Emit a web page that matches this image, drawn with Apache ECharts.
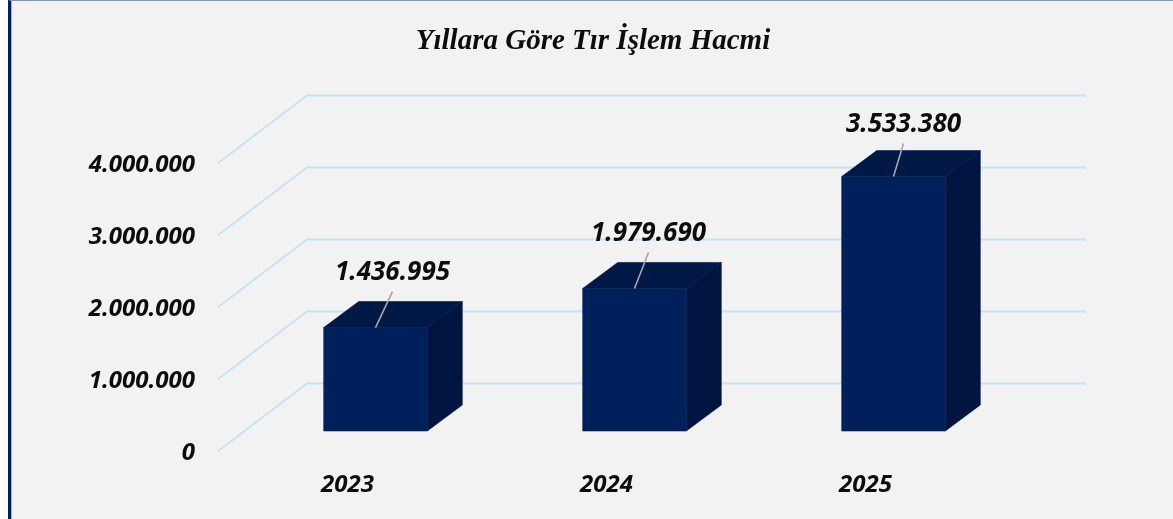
<!DOCTYPE html>
<html><head><meta charset="utf-8">
<style>
html,body{margin:0;padding:0;background:#fff;overflow:hidden}
#frame{position:absolute;left:8px;top:0;width:1165px;height:519px;box-sizing:border-box;border-left:3px solid #002060;border-top:1px solid #7f95bd;background:#f2f2f2;box-shadow:inset 1px 0 0 #9fb1d0}
#c{position:absolute;left:0;top:0;width:1173px;height:519px}
</style></head><body>
<div id="frame"></div><div id="c"></div>
<script src="https://cdn.jsdelivr.net/npm/echarts@6/dist/echarts.min.js"></script>
<script>
const titleText = 'Yıllara Göre Tır İşlem Hacmi';
const years = ['2023', '2024', '2025'];
const volumes = [1436995, 1979690, 3533380];
const volumeLabels = ['1.436.995', '1.979.690', '3.533.380'];
const gridValues = [0, 1000000, 2000000, 3000000, 4000000];
const leaderTips = [[17, -36], [14, -36], [10, -33]];

const FONT = '"Open Sans"';
const FRONT = '#00205c', SIDE = '#001440', TOP = '#001845';
const WALL = [89, -67.5], BAR = [28, -20], DEPTH = [35, -26];

const chart = echarts.init(document.getElementById('c'));
const edge = c => ({ fill: c, stroke: c, lineWidth: 0.6 });
const tickFont = { fontFamily: FONT, fontStyle: 'italic', fontWeight: 'bold', fontSize: 24, color: '#0d0d0d' };
chart.setOption({
  backgroundColor: 'transparent',
  animation: false,
  title: { text: titleText, left: 588, top: 22, textAlign: 'center',
    textStyle: { fontFamily: '"Liberation Serif"', fontStyle: 'italic', fontWeight: 'bold', fontSize: 29, color: '#0d0d0d' } },
  grid: { left: 218, top: 163, width: 777, height: 288 },
  xAxis: { type: 'category', data: years, axisLine: { show: false }, axisTick: { show: false },
    axisLabel: Object.assign({ margin: 22 }, tickFont) },
  yAxis: { type: 'value', min: 0, max: 4000000, interval: 1000000, splitLine: { show: false },
    axisLine: { show: false }, axisTick: { show: false },
    axisLabel: Object.assign({ margin: 23, rich: { t: Object.assign({ padding: [5, 0, 0, 0] }, tickFont) },
      formatter: v => '{t|' + String(v).replace(/\B(?=(\d{3})+$)/g, '.') + '}' }, tickFont) },
  series: [
    { type: 'custom', coordinateSystem: 'cartesian2d', silent: true, z: 1,
      data: gridValues.map(v => [0, v]),
      renderItem: (p, api) => {
        const a = api.coord([0, api.value(1)]);
        const left = p.coordSys.x, w = p.coordSys.width;
        const s = { stroke: '#c5e3f3', lineWidth: 2, fill: null };
        return { type: 'polyline', shape: { points: [[left, a[1]], [left + WALL[0], a[1] + WALL[1]], [left + w + WALL[0] + 2, a[1] + WALL[1]]] }, style: s };
      } },
    { type: 'custom', coordinateSystem: 'cartesian2d', silent: true, z: 2,
      data: volumes.map((v, i) => [i, v]),
      encode: { x: 0, y: 1 },
      renderItem: (p, api) => {
        const i = api.value(0), top = api.coord([i, api.value(1)]), base = api.coord([i, 0]);
        const hw = api.size([1, 0])[0] * 0.2;
        const x0 = top[0] + BAR[0] - hw, x1 = top[0] + BAR[0] + hw;
        const yb = base[1] + BAR[1], yt = top[1] + BAR[1];
        const dx = DEPTH[0], dy = DEPTH[1];
        const tip = [top[0] + BAR[0] + leaderTips[i][0], yt + leaderTips[i][1]];
        return { type: 'group', children: [
          { type: 'polygon', shape: { points: [[x0, yt], [x1, yt], [x1 + dx, yt + dy], [x0 + dx, yt + dy]] }, style: edge(TOP) },
          { type: 'polygon', shape: { points: [[x1, yb], [x1, yt], [x1 + dx, yt + dy], [x1 + dx, yb + dy]] }, style: edge(SIDE) },
          { type: 'rect', shape: { x: x0, y: yt, width: x1 - x0, height: yb - yt }, style: edge(FRONT) },
          { type: 'line', shape: { x1: top[0] + BAR[0], y1: yt, x2: tip[0], y2: tip[1] }, style: { stroke: '#a6a6a6', lineWidth: 1.6 } },
          { type: 'text', x: tip[0], y: tip[1] - 19, style: { text: volumeLabels[i], align: 'center', verticalAlign: 'middle',
            fontFamily: FONT, fontStyle: 'italic', fontWeight: 'bold', fontSize: 26, fill: '#0d0d0d' } }
        ] };
      } }
  ]
});
</script></body></html>
